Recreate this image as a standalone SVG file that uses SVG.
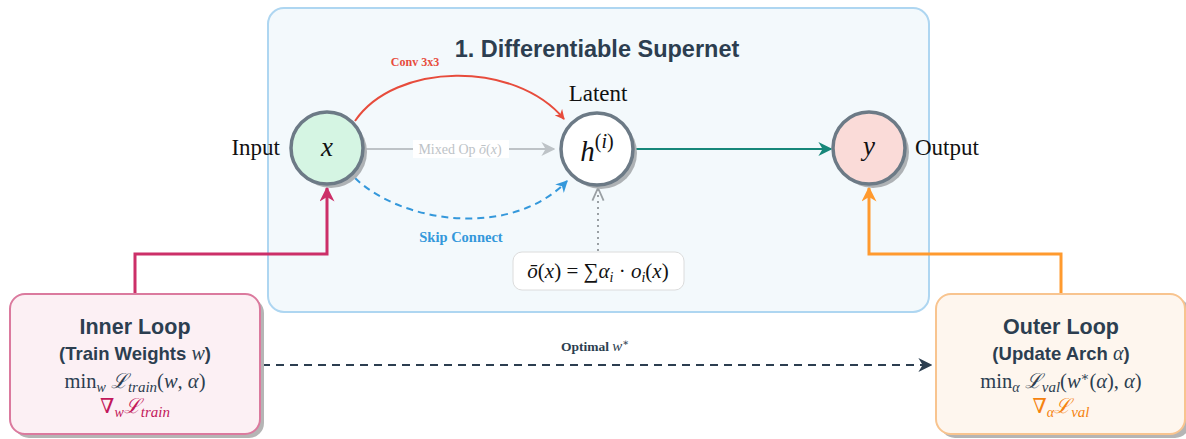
<svg xmlns="http://www.w3.org/2000/svg" width="1186" height="439" viewBox="0 0 1186 439">
<defs>
<style>
.serif{font-family:"Liberation Serif","DejaVu Serif",serif}
.math{font-family:"Liberation Serif","DejaVu Serif",serif;font-style:italic}
.sans{font-family:"Liberation Sans","DejaVu Sans",sans-serif;font-weight:bold;fill:#2c3e50}
.node{stroke:#6c7a86;stroke-width:3.5}
.shadow{fill:#aeb2b5}
.lbl{font-family:"Liberation Serif","DejaVu Serif",serif;font-weight:bold}
</style>
<marker id="aRed" viewBox="0 0 10 10" refX="9" refY="5" markerWidth="5" markerHeight="5" orient="auto"><path d="M0,0 L10,5 L0,10 L3,5 z" fill="#e74c3c"/></marker>
<marker id="aGray" viewBox="0 0 10 10" refX="9" refY="5" markerWidth="7" markerHeight="7" orient="auto"><path d="M0,0 L10,5 L0,10 L3,5 z" fill="#bdc3c7"/></marker>
<marker id="aBlue" viewBox="0 0 10 10" refX="9" refY="5" markerWidth="6" markerHeight="6" orient="auto"><path d="M0,0 L10,5 L0,10 L3,5 z" fill="#3498db"/></marker>
<marker id="aTeal" viewBox="0 0 10 10" refX="9" refY="5" markerWidth="7" markerHeight="7" orient="auto"><path d="M0,0 L10,5 L0,10 L3,5 z" fill="#16877a"/></marker>
<marker id="aPink" viewBox="0 0 10 10" refX="9" refY="5" markerWidth="5" markerHeight="5" orient="auto"><path d="M0,0 L10,5 L0,10 L3,5 z" fill="#cc2f68"/></marker>
<marker id="aOrange" viewBox="0 0 10 10" refX="9" refY="5" markerWidth="5" markerHeight="5" orient="auto"><path d="M0,0 L10,5 L0,10 L3,5 z" fill="#ff9a2e"/></marker>
<marker id="aDark" viewBox="0 0 10 10" refX="9" refY="5" markerWidth="7" markerHeight="7" orient="auto"><path d="M0,0 L10,5 L0,10 L3,5 z" fill="#2c3e50"/></marker>
<marker id="aChev" viewBox="0 0 10 10" refX="9" refY="5" markerWidth="7" markerHeight="7" orient="auto"><path d="M0,1 L9,5 L0,9" fill="none" stroke="#9aa0a4" stroke-width="1.3"/></marker>
</defs>
<rect width="1186" height="439" fill="#ffffff"/>

<g id="supernet">
<rect x="268" y="8" width="661" height="304" rx="16" fill="#f3f9fc" stroke="#aed6f1" stroke-width="2"/>
<text x="597" y="57" text-anchor="middle" class="sans" font-size="23.5">1. Differentiable Supernet</text>
</g>

<g id="connectors">
<path d="M355,121 C395,62 515,60 564,119" fill="none" stroke="#e74c3c" stroke-width="2" marker-end="url(#aRed)"/>
<line x1="366" y1="149" x2="554" y2="149" stroke="#bdc3c7" stroke-width="2" marker-end="url(#aGray)"/>
<path d="M355,178 C400,222 510,240 567,181" fill="none" stroke="#3498db" stroke-width="2" stroke-dasharray="7,5" marker-end="url(#aBlue)"/>
<line x1="636" y1="149" x2="831" y2="149" stroke="#16877a" stroke-width="2" marker-end="url(#aTeal)"/>
<line x1="598" y1="251" x2="598" y2="188" stroke="#9aa0a4" stroke-width="2" stroke-dasharray="2,4" marker-end="url(#aChev)"/>
<path d="M135,293 L135,254 L327,254 L327,188" fill="none" stroke="#cc2f68" stroke-width="3" marker-end="url(#aPink)"/>
<path d="M1061,293 L1061,254 L869,254 L869,188" fill="none" stroke="#ff9a2e" stroke-width="3" marker-end="url(#aOrange)"/>
<line x1="262" y1="365" x2="931" y2="365" stroke="#2c3e50" stroke-width="2" stroke-dasharray="8,6" marker-end="url(#aDark)"/>
<text x="415" y="66" text-anchor="middle" class="lbl" font-size="12" fill="#e74c3c">Conv 3x3</text>
<rect x="413" y="140" width="96" height="18" fill="#ffffff"/>
<text x="460" y="154" text-anchor="middle" class="serif" font-size="14" fill="#bdc3c7">Mixed Op <tspan font-style="italic">ō</tspan>(<tspan font-style="italic">x</tspan>)</text>
<text x="461" y="242" text-anchor="middle" class="lbl" font-size="14.5" fill="#3498db">Skip Connect</text>
<text x="595" y="351" text-anchor="middle" class="lbl" font-size="13.5" fill="#2c3e50">Optimal <tspan font-style="italic" font-weight="normal" font-size="15">w</tspan><tspan font-weight="normal" font-size="10" dy="-5">∗</tspan></text>
</g>

<g id="node-x">
<circle cx="331" cy="152" r="36" class="shadow"/>
<circle cx="327" cy="148" r="36" fill="#d5f5e3" class="node"/>
<text x="327" y="156" text-anchor="middle" class="math" font-size="27" fill="#111">x</text>
<text x="280" y="155" text-anchor="end" class="serif" font-size="23" fill="#111">Input</text>
</g>

<g id="node-h">
<circle cx="601" cy="153" r="36" class="shadow"/>
<circle cx="597" cy="149" r="36" fill="#ffffff" class="node"/>
<text x="597" y="161" text-anchor="middle" class="math" font-size="29" fill="#111">h<tspan font-size="20" dy="-13" font-style="normal">(</tspan><tspan font-size="20">i</tspan><tspan font-size="20" font-style="normal">)</tspan></text>
<text x="598" y="101" text-anchor="middle" class="serif" font-size="23" fill="#111">Latent</text>
</g>

<g id="node-y">
<circle cx="873" cy="152" r="36" class="shadow"/>
<circle cx="869" cy="148" r="36" fill="#fadbd8" class="node"/>
<text x="869" y="155" text-anchor="middle" class="math" font-size="27" fill="#111">y</text>
<text x="915" y="155" class="serif" font-size="23" fill="#111">Output</text>
</g>

<g id="formula">
<rect x="513" y="252" width="171" height="38" rx="9" fill="#ffffff" stroke="#dcdcdc" stroke-width="1"/>
<text x="598" y="278" text-anchor="middle" class="serif" font-size="21" fill="#111"><tspan font-style="italic">ō</tspan>(<tspan font-style="italic">x</tspan>) = ∑<tspan font-style="italic">α</tspan><tspan font-style="italic" font-size="14" dy="4">i</tspan><tspan dy="-4"> · </tspan><tspan font-style="italic">o</tspan><tspan font-style="italic" font-size="14" dy="4">i</tspan><tspan dy="-4">(</tspan><tspan font-style="italic">x</tspan>)</text>
</g>

<g id="inner-loop">
<rect x="14" y="298" width="250" height="140" rx="15" fill="#b5b5b5"/>
<rect x="10" y="294" width="250" height="140" rx="15" fill="#fcf0f4" stroke="#db7a9e" stroke-width="2"/>
<text x="135" y="334" text-anchor="middle" class="sans" font-size="21.5">Inner Loop</text>
<text x="135" y="360" text-anchor="middle" class="sans" font-size="18.5">(Train Weights <tspan class="math" font-weight="normal" font-size="20">w</tspan>)</text>
<text x="135" y="388" text-anchor="middle" class="serif" font-size="20.5" fill="#2c3e50">min<tspan class="math" font-size="14" dy="4">w</tspan><tspan dy="-4"> </tspan><tspan class="math">ℒ</tspan><tspan class="math" font-size="15" dy="4">train</tspan><tspan dy="-4">(</tspan><tspan class="math">w</tspan>, <tspan class="math">α</tspan>)</text>
<text x="135" y="413" text-anchor="middle" class="serif" font-size="20.5" fill="#c2185b">∇<tspan class="math" font-size="14" dy="4">w</tspan><tspan class="math" dy="-4">ℒ</tspan><tspan class="math" font-size="15" dy="4">train</tspan></text>
</g>

<g id="outer-loop">
<rect x="940" y="298" width="250" height="140" rx="15" fill="#b5b5b5"/>
<rect x="936" y="294" width="249" height="140" rx="15" fill="#fef6ee" stroke="#f8c48f" stroke-width="2"/>
<text x="1061" y="334" text-anchor="middle" class="sans" font-size="21.5">Outer Loop</text>
<text x="1061" y="360" text-anchor="middle" class="sans" font-size="18.5">(Update Arch <tspan class="math" font-weight="normal" font-size="20">α</tspan>)</text>
<text x="1061" y="388" text-anchor="middle" class="serif" font-size="20.5" fill="#2c3e50">min<tspan class="math" font-size="14" dy="4">α</tspan><tspan dy="-4"> </tspan><tspan class="math">ℒ</tspan><tspan class="math" font-size="15" dy="4">val</tspan><tspan dy="-4">(</tspan><tspan class="math">w</tspan><tspan font-size="13" dy="-7">∗</tspan><tspan dy="7">(</tspan><tspan class="math">α</tspan>), <tspan class="math">α</tspan>)</text>
<text x="1061" y="413" text-anchor="middle" class="serif" font-size="20.5" fill="#f5820f">∇<tspan class="math" font-size="14" dy="4">α</tspan><tspan class="math" dy="-4">ℒ</tspan><tspan class="math" font-size="15" dy="4">val</tspan></text>
</g>
</svg>
